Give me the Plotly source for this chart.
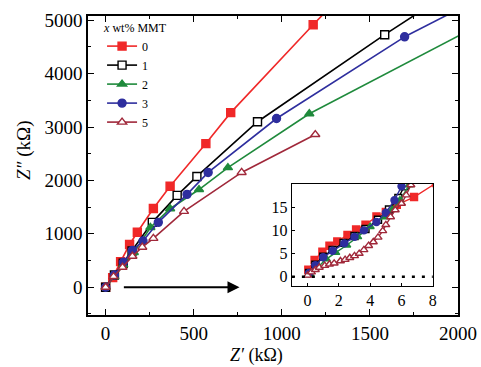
import plotly.graph_objects as go

# ---------------- data ----------------
series_names = ["0", "1", "2", "3", "5"]
colors = ["#f02828", "#000000", "#1f8a3c", "#2e2e9e", "#a0283a"]
symbols = ["square", "square", "triangle-up", "circle", "triangle-up"]
filled = [True, False, True, True, False]

# main plot (kOhm)
x0 = [0, 40, 85, 136, 180, 271, 366, 569, 710, 1178]
y0 = [0, 180, 480, 800, 1030, 1475, 1890, 2690, 3270, 4915]
x1 = [0, 50, 100, 150, 265, 406, 518, 862, 1584]
y1 = [0, 230, 450, 680, 1215, 1720, 2075, 3100, 4730]
x2 = [0, 50, 100, 160, 254, 366, 530, 694, 1156]
y2 = [0, 200, 420, 650, 1120, 1470, 1830, 2240, 3250]
x3 = [0, 50, 101, 152, 212, 299, 462, 582, 970, 1697]
y3 = [0, 230, 467, 690, 866, 1215, 1740, 2150, 3160, 4690]
x5 = [0, 45, 96, 152, 208, 271, 445, 772, 1190]
y5 = [0, 200, 375, 580, 750, 915, 1420, 2150, 2860]

# fitted-line continuation beyond last marker (line only)
ext_x = {"0": [1178, 1240], "1": [1584, 1770], "2": [1156, 1600, 2010], "3": [1697, 1960], "5": []}
ext_y = {"0": [4915, 5130], "1": [4730, 5130], "2": [3250, 4016, 4720], "3": [4690, 5135], "5": []}

# inset (high-frequency region)
ix0 = [0.05, 0.45, 0.95, 1.4, 1.9, 2.55, 3.1, 3.7, 4.4, 5.0, 5.7, 6.8, 8.2]
iy0 = [1.5, 3.6, 5.4, 6.7, 7.6, 9.0, 10.2, 11.2, 13.0, 14.0, 15.5, 17.2, 20.2]
ix1 = [0.1, 0.5, 1.0, 1.6, 2.3, 3.0, 3.7, 4.5, 5.2, 5.8, 6.2, 6.4]
iy1 = [0.8, 2.6, 4.3, 5.8, 7.3, 8.8, 10.3, 12.3, 14.5, 17.0, 19.5, 21]
ix2 = [0.15, 0.6, 1.2, 1.8, 2.5, 3.2, 4.0, 4.9, 5.4, 5.9, 6.5, 6.7]
iy2 = [0.5, 2.0, 3.8, 5.2, 6.8, 8.6, 10.8, 12.9, 14.5, 16.5, 19.8, 21]
ix3 = [0.1, 0.5, 1.0, 1.6, 2.35, 3.0, 3.6, 4.4, 5.0, 5.55, 6.0, 6.2]
iy3 = [0.8, 2.5, 4.2, 5.6, 7.2, 8.6, 10.0, 11.8, 13.8, 16.5, 19.5, 21]
ix5 = [0.0, 0.25, 0.5, 0.75, 1.1, 1.4, 1.7, 2.1, 2.4, 2.7, 3.0, 3.3, 3.6, 3.9,
       4.2, 4.5, 4.8, 5.0, 5.3, 5.6, 6.0, 6.3, 6.6]
iy5 = [0.3, 1.0, 1.5, 2.0, 2.4, 2.7, 2.9, 3.4, 3.7, 4.1, 4.5, 5.0, 5.8, 6.7,
       7.5, 8.5, 9.9, 11.2, 12.9, 14.4, 15.8, 17.6, 19.8]

main_x = [x0, x1, x2, x3, x5]
main_y = [y0, y1, y2, y3, y5]
ins_x = [ix0, ix1, ix2, ix3, ix5]
ins_y = [iy0, iy1, iy2, iy3, iy5]

x_ticks = [0, 500, 1000, 1500, 2000]
y_ticks = [0, 1000, 2000, 3000, 4000, 5000]
ix_ticks = [0, 2, 4, 6, 8]
iy_ticks = [0, 5, 10, 15]

x_title = "<i>Z′</i> (kΩ)"
y_title = "<i>Z″</i> (kΩ)"
legend_title = "<i>x</i> wt% MMT"

FONT = "Times New Roman, Liberation Serif, serif"

fig = go.Figure()


def mk(c, s, f, size):
    return dict(symbol=s, size=size, color=c if f else "white",
                line=dict(color=c, width=1.4))


for n, c, s, f, xs, ys in zip(series_names, colors, symbols, filled, main_x, main_y):
    if ext_x[n]:
        fig.add_trace(go.Scatter(x=ext_x[n], y=ext_y[n], mode="lines",
                                 line=dict(color=c, width=1.6), showlegend=False,
                                 hoverinfo="skip"))
    fig.add_trace(go.Scatter(
        x=xs, y=ys, mode="lines+markers", name=n,
        line=dict(color=c, width=1.6),
        marker=mk(c, s, f, 8),
    ))

for n, c, s, f, xs, ys in zip(series_names, colors, symbols, filled, ins_x, ins_y):
    fig.add_trace(go.Scatter(
        x=xs, y=ys, mode="lines+markers", xaxis="x2", yaxis="y2", showlegend=False,
        line=dict(color=c, width=1.4),
        marker=mk(c, s, f, 7),
    ))

# dotted zero line in inset
fig.add_trace(go.Scatter(x=[-1, 8], y=[0, 0], mode="lines", xaxis="x2", yaxis="y2",
                         showlegend=False, line=dict(color="black", width=2.5, dash="3px,7px")))

axis_common = dict(showline=True, linecolor="black", linewidth=1.5, mirror="ticks",
                   ticks="inside", tickcolor="black", ticklen=6, tickwidth=1.3,
                   showgrid=False, zeroline=False, automargin=False,
                   ticklabeloverflow="allow",
                   tickfont=dict(family=FONT, size=19, color="black"))

inset_common = dict(showline=True, linecolor="black", linewidth=1.3, mirror=True,
                    ticks="inside", ticklen=3, tickcolor="black", showgrid=False,
                    zeroline=False, automargin=False, ticklabeloverflow="allow",
                    tickfont=dict(family=FONT, size=16, color="black"))

fig.update_layout(
    width=481, height=367,
    margin=dict(l=88, r=23, t=16, b=52),
    paper_bgcolor="white", plot_bgcolor="white",
    font=dict(family=FONT, color="black"),
    xaxis=dict(range=[-100, 2000], tickvals=x_ticks, domain=[0, 1],
               minor=dict(dtick=250, ticks="inside", ticklen=3, tickcolor="black"),
               **axis_common),
    yaxis=dict(range=[-520, 5080], tickvals=y_ticks, domain=[0, 1],
               minor=dict(dtick=500, ticks="inside", ticklen=3, tickcolor="black"),
               **axis_common),
    xaxis2=dict(range=[-1, 8], tickvals=ix_ticks, domain=[0.551, 0.932], anchor="y2",
                **inset_common),
    yaxis2=dict(range=[-2, 20], tickvals=iy_ticks, domain=[0.097, 0.438], anchor="x2",
                **inset_common),
    legend=dict(x=0.038, y=1.0, xanchor="left", yanchor="top",
                bgcolor="rgba(0,0,0,0)", tracegroupgap=0,
                title=dict(text=legend_title, font=dict(family=FONT, size=12)),
                font=dict(family=FONT, size=12, color="black")),
    showlegend=True,
    annotations=[
        dict(x=760, y=0, ax=95, ay=0, xref="x", yref="y", axref="x", ayref="y",
             text="", showarrow=True, arrowhead=2, arrowsize=1.2,
             arrowwidth=2, arrowcolor="black"),
        dict(x=0.455, y=-0.134, xref="paper", yref="paper", text=x_title,
             showarrow=False, xanchor="center", yanchor="middle",
             font=dict(family=FONT, size=18, color="black")),
        dict(x=-0.173, y=0.552, xref="paper", yref="paper", text=y_title,
             showarrow=False, xanchor="center", yanchor="middle", textangle=-90,
             font=dict(family=FONT, size=19, color="black")),
    ],
)

# remove the default 8px page margin so the 481x367 figure fills the window exactly
fig.write_html("out.html",
               config={"displayModeBar": False},
               post_script="document.body.style.margin='0';document.body.style.overflow='hidden';")
